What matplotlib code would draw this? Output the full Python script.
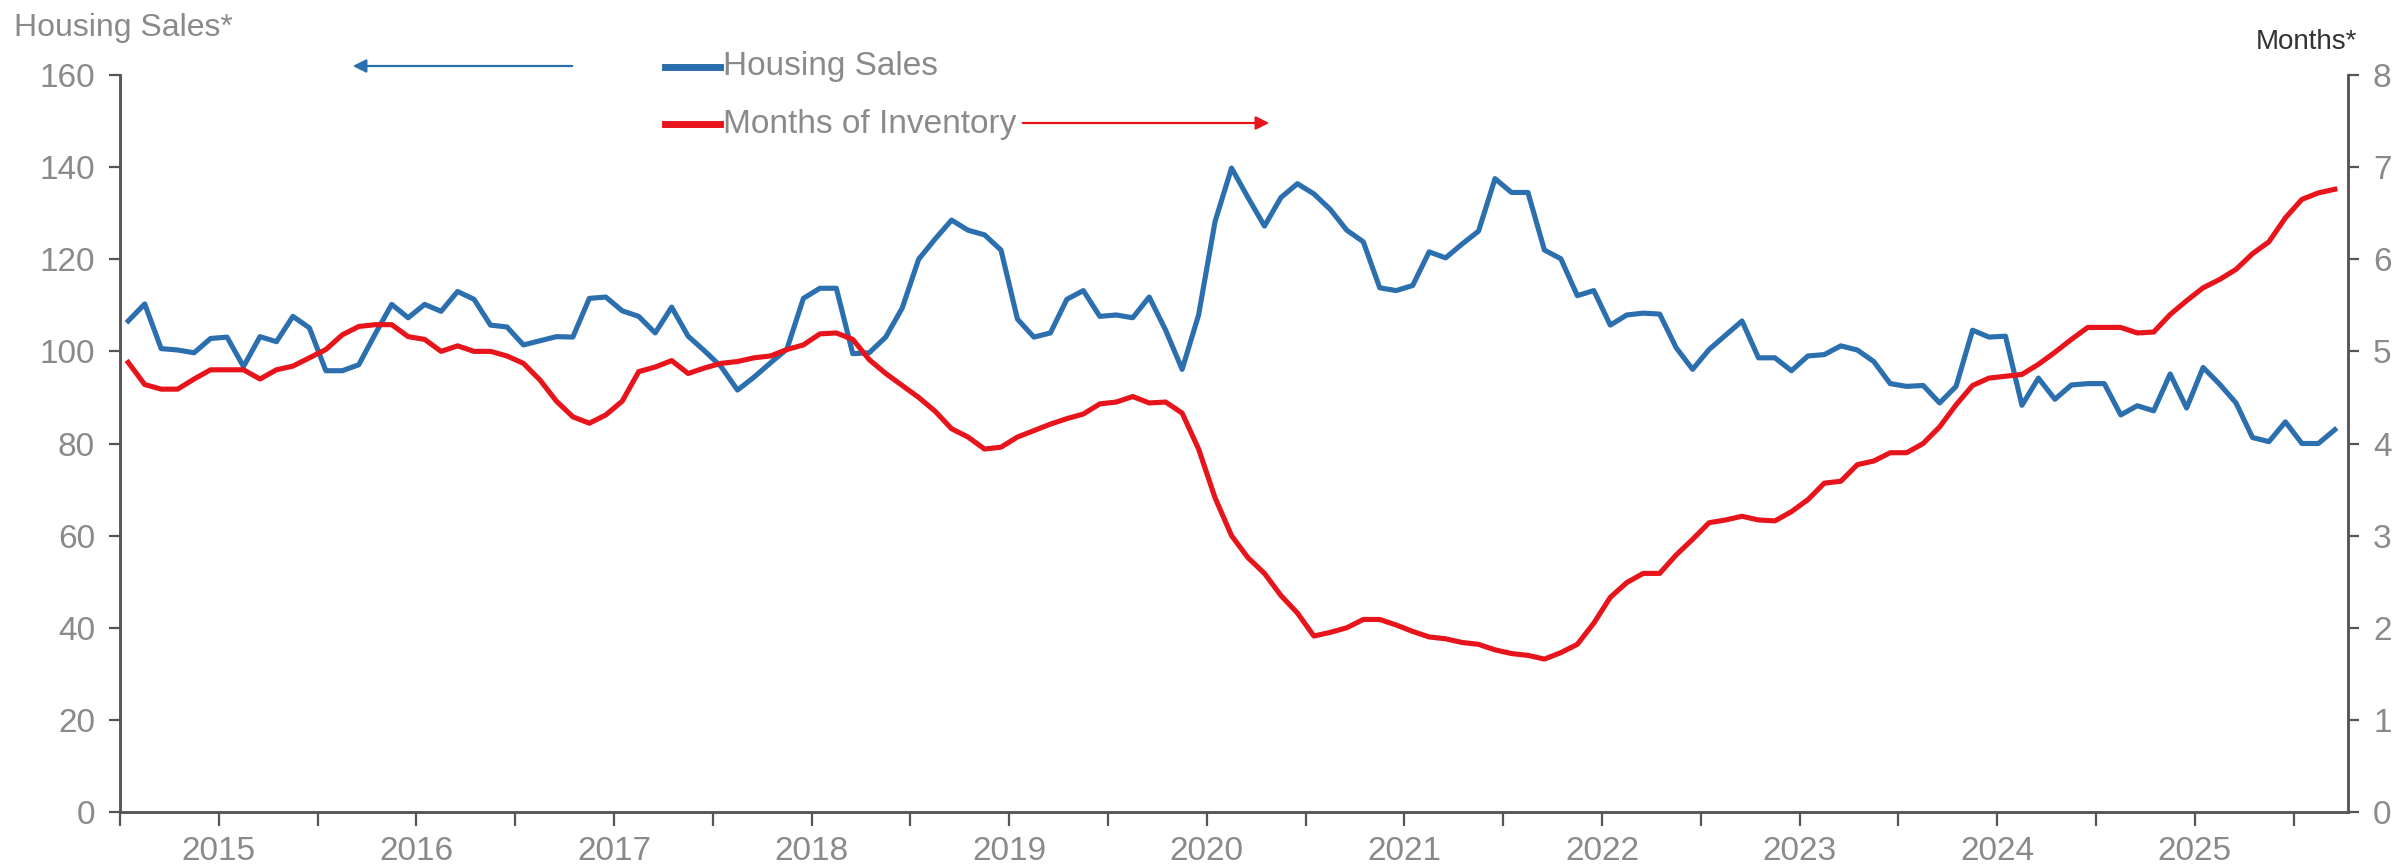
import matplotlib
matplotlib.use("Agg")
import matplotlib.pyplot as plt
from matplotlib import font_manager
from matplotlib.lines import Line2D
import numpy as np

# Monthly series, Jan 2015 onward
housing_sales = [
    106.6, 110.3, 100.6, 100.3, 99.7, 102.8, 103.1, 96.7, 103.2, 102.1, 107.6, 105.1,
    95.8, 95.8, 97.1, 103.8, 110.2, 107.3, 110.2, 108.7, 113.0, 111.3, 105.7, 105.3,
    101.4, 102.3, 103.2, 103.1, 111.5, 111.8, 108.8, 107.6, 104.0, 109.6, 103.3, 100.1,
    96.7, 91.6, 94.4, 97.5, 100.5, 111.5, 113.7, 113.7, 99.5, 99.7, 103.1, 109.4,
    120.0, 124.4, 128.5, 126.3, 125.3, 122.0, 107.0, 103.1, 104.0, 111.3, 113.2, 107.6,
    107.9, 107.3, 111.8, 104.6, 96.1, 107.9, 128.2, 139.8, 133.4, 127.2, 133.4, 136.4,
    134.2, 130.8, 126.3, 123.8, 113.8, 113.2, 114.3, 121.6, 120.3, 123.3, 126.1, 137.5,
    134.5, 134.5, 122.0, 120.1, 112.1, 113.2, 105.7, 107.9, 108.3, 108.1, 100.8, 96.1,
    100.4, 103.5, 106.6, 98.6, 98.6, 95.8, 99.0, 99.3, 101.2, 100.3, 97.8, 93.0,
    92.4, 92.6, 88.8, 92.4, 104.6, 103.1, 103.3, 88.3, 94.2, 89.6, 92.7, 93.0,
    93.0, 86.2, 88.2, 87.1, 95.1, 87.7, 96.5, 92.9, 88.8, 81.3, 80.4, 84.7,
    80.0, 80.0, 83.0,
]

months_inventory = [
    4.88, 4.64, 4.59, 4.59, 4.70, 4.80, 4.80, 4.80, 4.70, 4.80, 4.84, 4.93,
    5.02, 5.18, 5.27, 5.29, 5.29, 5.16, 5.13, 5.00, 5.06, 5.00, 5.00, 4.95,
    4.87, 4.69, 4.46, 4.29, 4.22, 4.31, 4.46, 4.78, 4.83, 4.90, 4.76, 4.82,
    4.87, 4.89, 4.93, 4.95, 5.02, 5.07, 5.19, 5.20, 5.13, 4.91, 4.76, 4.63,
    4.50, 4.35, 4.16, 4.07, 3.94, 3.96, 4.07, 4.14, 4.21, 4.27, 4.32, 4.43,
    4.45, 4.51, 4.44, 4.45, 4.33, 3.94, 3.41, 3.00, 2.76, 2.59, 2.35, 2.16,
    1.91, 1.95, 2.00, 2.09, 2.09, 2.03, 1.96, 1.90, 1.88, 1.84, 1.82, 1.76,
    1.72, 1.70, 1.66, 1.73, 1.82, 2.05, 2.33, 2.49, 2.59, 2.59, 2.79, 2.96,
    3.14, 3.17, 3.21, 3.17, 3.16, 3.26, 3.39, 3.57, 3.59, 3.77, 3.81, 3.90,
    3.90, 4.00, 4.18, 4.42, 4.63, 4.71, 4.73, 4.75, 4.86, 4.99, 5.13, 5.26,
    5.26, 5.26, 5.20, 5.21, 5.40, 5.55, 5.69, 5.78, 5.89, 6.06, 6.19, 6.45,
    6.65, 6.72, 6.76,
]

year_labels = ["2015", "2016", "2017", "2018", "2019", "2020",
               "2021", "2022", "2023", "2024", "2025"]
left_ticks = [0, 20, 40, 60, 80, 100, 120, 140, 160]
right_ticks = [0, 1, 2, 3, 4, 5, 6, 7, 8]

# Fonts: prefer a narrow sans face
available = {f.name for f in font_manager.fontManager.ttflist}
family = "Liberation Sans Narrow" if "Liberation Sans Narrow" in available else "Liberation Sans"
plt.rcParams["font.family"] = [family, "DejaVu Sans"]

BLUE = "#2b6fae"
RED = "#e8141c"
GRAY = "#8a8a8a"
SPINE = "#555555"
FS = 24

W, H = 2404, 866
fig = plt.figure(figsize=(W / 100, H / 100), dpi=100)
ax = fig.add_axes([120 / W, 1 - 812 / H, (2348 - 120) / W, (812 - 75) / H])
ax2 = ax.twinx()

x = np.arange(len(housing_sales))
ax.plot(x, housing_sales, color=BLUE, lw=3.7, solid_joinstyle="round", zorder=3)
ax2.plot(np.arange(len(months_inventory)), months_inventory, color=RED, lw=3.7,
         solid_joinstyle="round", zorder=3)

ax.set_xlim(-0.45, 134.8)
ax.set_ylim(0, 160)
ax2.set_ylim(0, 8)

# Half-year tick marks (Jan and Jul); the July tick carries the year label
half_year_ticks = np.arange(-0.5, 134.8, 6)
tick_text = []
for k in range(len(half_year_ticks)):
    if k % 2 == 1 and k // 2 < len(year_labels):
        tick_text.append(year_labels[k // 2])
    else:
        tick_text.append("")
ax.set_xticks(half_year_ticks)
ax.set_xticklabels(tick_text)
ax.tick_params(axis="x", direction="out", length=10, width=1.6, color=SPINE,
               pad=7, labelsize=FS, labelcolor=GRAY)

ax.set_yticks(left_ticks)
ax.set_yticklabels([str(v) for v in left_ticks])
ax.tick_params(axis="y", direction="out", length=8, width=1.6, color=SPINE,
               labelsize=FS, labelcolor=GRAY, pad=10)
ax2.set_yticks(right_ticks)
ax2.set_yticklabels([str(v) for v in right_ticks])
ax2.tick_params(axis="y", direction="out", length=8, width=1.6, color=SPINE,
                labelsize=FS, labelcolor=GRAY, pad=10)

for a in (ax, ax2):
    a.spines["top"].set_visible(False)
    for side in ("left", "right", "bottom"):
        a.spines[side].set_color(SPINE)
        a.spines[side].set_linewidth(1.8)

# Axis titles
fig.text(14 / W, 1 - 28 / H, "Housing Sales*", fontsize=FS - 1, color=GRAY,
         ha="left", va="center")
fig.text(2357 / W, 1 - 42 / H, "Months*", fontsize=FS - 4, color="#333333",
         ha="right", va="center")

# Legend entries
def legend_entry(y, color, label):
    fig.add_artist(Line2D([665 / W, 720 / W], [1 - y / H, 1 - y / H],
                          transform=fig.transFigure, color=color, lw=5))
    fig.text(723 / W, 1 - y / H, label, fontsize=FS, color=GRAY,
             ha="left", va="center")

legend_entry(67, BLUE, "Housing Sales")
legend_entry(124, RED, "Months of Inventory")

# Direction arrows pointing to each series' axis
ax.annotate("", xy=(350 / W, 1 - 66 / H), xytext=(575 / W, 1 - 66 / H),
            xycoords="figure fraction", textcoords="figure fraction",
            arrowprops=dict(arrowstyle="-|>", color=BLUE, lw=1.6,
                            mutation_scale=20))
ax.annotate("", xy=(1272 / W, 1 - 123 / H), xytext=(1020 / W, 1 - 123 / H),
            xycoords="figure fraction", textcoords="figure fraction",
            arrowprops=dict(arrowstyle="-|>", color=RED, lw=1.6,
                            mutation_scale=20))

fig.savefig("out.png", dpi=100, facecolor="white")
